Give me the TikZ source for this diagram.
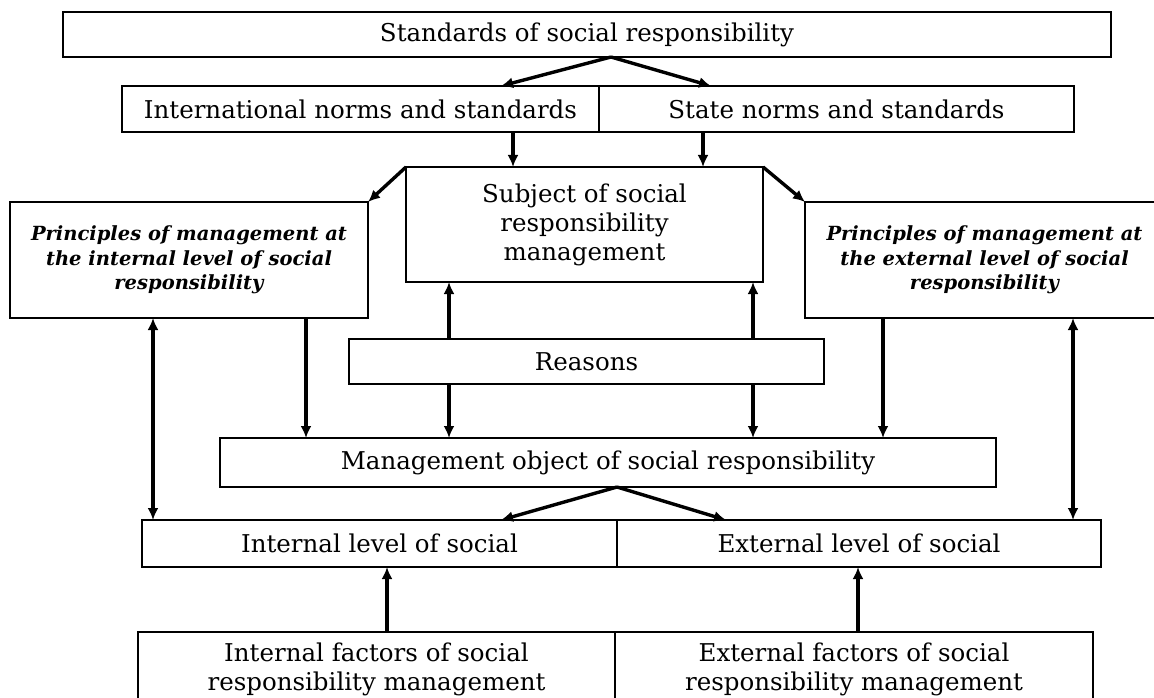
\documentclass[tikz,border=0pt]{standalone}
\usepackage{fontspec}
\setmainfont{DejaVu Serif}
\usetikzlibrary{arrows.meta}

\tikzset{
  box/.style={draw, line width=2.6pt, inner sep=0pt, outer sep=0pt, align=center,
    font=\fontsize{24.5}{29}\selectfont},
  pbox/.style={box, font=\fontsize{19.5}{24.5}\selectfont\bfseries\itshape},
  arr/.style={line width=3.4pt, -{Latex[length=12pt,width=11pt]}},
  darr/.style={line width=3.4pt, {Latex[length=12pt,width=11pt]}-{Latex[length=12pt,width=11pt]}},
}

\begin{document}
\begin{tikzpicture}[x=1pt,y=-1pt]
\useasboundingbox (0,0) rectangle (1154,698);
\clip (0,0) rectangle (1154,698);

% boxes
\node[box, minimum width=1048pt, minimum height=45pt] (std) at (587,34.5) {Standards of social responsibility};
\node[box, minimum width=477pt, minimum height=46pt] (intl) at (360.5,109) {International norms and standards};
\node[box, minimum width=475pt, minimum height=46pt] (state) at (836.5,109) {State norms and standards};
\node[box, minimum width=357pt, minimum height=115pt] (subj) at (584.5,224.5) {Subject of social\\responsibility\\management};
\node[pbox, minimum width=358pt, minimum height=116pt] (lprin) at (189,260) {Principles of management at\\the internal level of social\\responsibility};
\node[pbox, minimum width=359pt, minimum height=116pt] (rprin) at (984.5,260) {Principles of management at\\the external level of social\\responsibility};
\node[box, minimum width=475pt, minimum height=45pt] (reas) at (586.5,361.5) {Reasons};
\node[box, minimum width=776pt, minimum height=49pt] (mgmt) at (608,462.5) {Management object of social responsibility};
\node[box, minimum width=475pt, minimum height=47pt] (ilev) at (379.5,543.5) {Internal level of social};
\node[box, minimum width=484pt, minimum height=47pt] (elev) at (859,543.5) {External level of social};
\node[box, minimum width=477pt, minimum height=74pt] (ifac) at (376.5,669) {Internal factors of social\\responsibility management};
\node[box, minimum width=478pt, minimum height=74pt] (efac) at (854,669) {External factors of social\\responsibility management};

% standards to norms
\draw[arr] ([xshift=24pt]std.south) -- ([xshift=140.5pt]intl.north);
\draw[arr] ([xshift=24pt]std.south) -- ([xshift=-125.5pt]state.north);
% norms to subject
\draw[arr] ([xshift=152.5pt]intl.south) -- ([xshift=-71.5pt]subj.north);
\draw[arr] ([xshift=-133.5pt]state.south) -- ([xshift=118.5pt]subj.north);
% subject to principles
\draw[arr] (subj.north west) -- (lprin.north east);
\draw[arr] (subj.north east) -- (rprin.north west);
% reasons
\draw[arr] ([xshift=-137.5pt]reas.north) -- ([xshift=-135.5pt]subj.south);
\draw[arr] ([xshift=166.5pt]reas.north) -- ([xshift=168.5pt]subj.south);
\draw[arr] ([xshift=-137.5pt]reas.south) -- ([xshift=-159pt]mgmt.north);
\draw[arr] ([xshift=166.5pt]reas.south) -- ([xshift=145pt]mgmt.north);
% principles to object
\draw[arr] ([xshift=117pt]lprin.south) -- ([xshift=-302pt]mgmt.north);
\draw[arr] ([xshift=-101.5pt]rprin.south) -- ([xshift=275pt]mgmt.north);
% principles and levels
\draw[darr] ([xshift=-36pt]lprin.south) -- ([xshift=-226.5pt]ilev.north);
\draw[darr] ([xshift=88.5pt]rprin.south) -- ([xshift=214pt]elev.north);
% object to levels
\draw[arr] ([xshift=9pt]mgmt.south) -- ([xshift=121.5pt]ilev.north);
\draw[arr] ([xshift=9pt]mgmt.south) -- ([xshift=-133pt]elev.north);
% factors to levels
\draw[arr] ([xshift=10.5pt]ifac.north) -- ([xshift=7.5pt]ilev.south);
\draw[arr] ([xshift=4pt]efac.north) -- ([xshift=-1pt]elev.south);

\end{tikzpicture}
\end{document}
